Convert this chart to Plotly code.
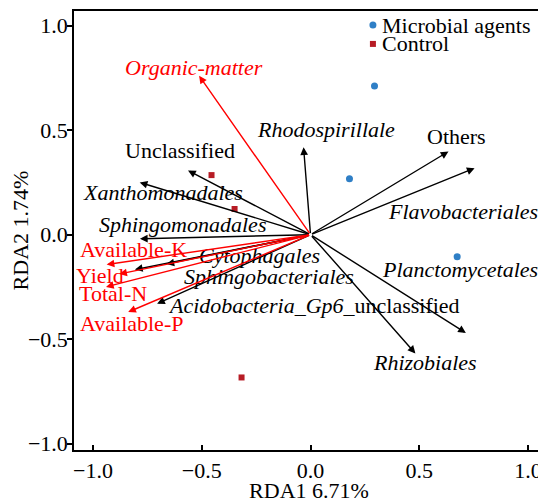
import plotly.graph_objects as go

# ---- data -------------------------------------------------------------
env_names = ["Organic-matter", "Available-K", "Yield", "Total-N", "Available-P"]
env_x = [-0.512, -0.937, -0.879, -0.940, -0.838]
env_y = [0.760, -0.143, -0.188, -0.250, -0.370]

species_names = ["Rhodospirillale", "Unclassified", "Xanthomonadales", "Sphingomonadales",
                 "Others", "Flavobacteriales", "Planctomycetales", "Rhizobiales",
                 "Cytophagales", "Sphingobacteriales", "Acidobacteria_Gp6_unclassified"]
species_x = [-0.032, -0.563, -0.785, -0.784, 0.634, 0.754, 0.714, 0.482, -0.807, -0.662, -0.705]
species_y = [0.418, 0.307, 0.250, -0.020, 0.398, 0.318, -0.470, -0.568, -0.167, -0.140, -0.330]

agents_x = [0.294, 0.179, 0.674]
agents_y = [0.711, 0.267, -0.105]
control_x = [-0.455, -0.349, -0.317]
control_y = [0.285, 0.123, -0.683]

group_names = ["Microbial agents", "Control"]

x_ticks = [-1.0, -0.5, 0.0, 0.5, 1.0]
y_ticks = [-1.0, -0.5, 0.0, 0.5, 1.0]

# ---- label placement (layout) ----------------------------------------
label_pos = {
    "Organic-matter": (-0.537, 0.800),
    "Available-K": (-0.812, -0.072),
    "Yield": (-0.968, -0.196),
    "Total-N": (-0.910, -0.282),
    "Available-P": (-0.823, -0.426),
    "Rhodospirillale": (0.069, 0.505),
    "Unclassified": (-0.600, 0.404),
    "Xanthomonadales": (-0.679, 0.200),
    "Sphingomonadales": (-0.589, 0.047),
    "Others": (0.670, 0.472),
    "Flavobacteriales": (0.700, 0.109),
    "Planctomycetales": (0.686, -0.168),
    "Rhizobiales": (0.525, -0.612),
    "Cytophagales": (-0.234, -0.101),
    "Sphingobacteriales": (-0.190, -0.201),
    "Acidobacteria_Gp6_unclassified": (0.018, -0.340),
}
italic = {"Organic-matter", "Rhodospirillale", "Xanthomonadales", "Sphingomonadales",
          "Flavobacteriales", "Planctomycetales", "Rhizobiales", "Cytophagales",
          "Sphingobacteriales"}


def fmt(name):
    if name == "Acidobacteria_Gp6_unclassified":
        return "<i>Acidobacteria_Gp6</i>_unclassified"
    return f"<i>{name}</i>" if name in italic else name


FONT = "Liberation Serif"
RED = "#ff0000"
BLACK = "#000000"
BLUE = "#2f7fc6"
DARKRED = "#b71c25"

fig = go.Figure()

fig.add_trace(go.Scatter(x=agents_x, y=agents_y, mode="markers", name=group_names[0],
                         showlegend=False,
                         marker=dict(symbol="circle", size=7, color=BLUE)))
fig.add_trace(go.Scatter(x=control_x, y=control_y, mode="markers", name=group_names[1],
                         showlegend=False,
                         marker=dict(symbol="square", size=6, color=DARKRED)))

annotations = []


def add_arrows(names, xs, ys, color):
    for n, x, y in zip(names, xs, ys):
        annotations.append(dict(x=x, y=y, ax=0, ay=0, xref="x", yref="y", axref="x", ayref="y",
                                text="", showarrow=True, arrowhead=2, arrowsize=1.1,
                                arrowwidth=1.4, arrowcolor=color))
        lx, ly = label_pos[n]
        annotations.append(dict(x=lx, y=ly, xref="x", yref="y", text=fmt(n), showarrow=False,
                                font=dict(family=FONT, size=22, color=color),
                                xanchor="center", yanchor="middle"))


add_arrows(species_names, species_x, species_y, BLACK)
add_arrows(env_names, env_x, env_y, RED)

# compact legend (top right), drawn as key shapes + text
leg_x, leg_text_x = 0.636, 0.652
leg_rows = [0.968, 0.925]
shapes = [
    dict(type="circle", xref="paper", yref="paper", xsizemode="pixel", ysizemode="pixel",
         xanchor=leg_x, yanchor=leg_rows[0], x0=-3.5, x1=3.5, y0=-3.5, y1=3.5,
         fillcolor=BLUE, line=dict(width=0)),
    dict(type="rect", xref="paper", yref="paper", xsizemode="pixel", ysizemode="pixel",
         xanchor=leg_x, yanchor=leg_rows[1], x0=-3, x1=3, y0=-3, y1=3,
         fillcolor=DARKRED, line=dict(width=0)),
]
for name, ry in zip(group_names, leg_rows):
    annotations.append(dict(x=leg_text_x, y=ry, xref="paper", yref="paper", text=name,
                            showarrow=False, xanchor="left", yanchor="middle",
                            font=dict(family=FONT, size=22, color="black")))

fig.add_hline(y=0, line=dict(color="black", width=1, dash="dot"))
fig.add_vline(x=0, line=dict(color="black", width=1, dash="dot"))

axis_common = dict(showgrid=False, zeroline=False, showline=True, linecolor="black",
                   linewidth=1.5, mirror=True, ticklen=5, tickwidth=1.5, tickcolor="black",
                   tickfont=dict(family=FONT, size=22, color="black"),
                   tickformat=".1f", automargin=False)

# the page body has an 8 px margin, so the figure is sized to fit inside it
fig.update_layout(
    width=538, height=495,
    margin=dict(l=66, r=2, t=3, b=53),
    plot_bgcolor="white", paper_bgcolor="white",
    font=dict(family=FONT, size=22, color="black"),
    annotations=annotations,
    shapes=shapes,
    showlegend=False,
    xaxis=dict(range=[-1.087, 1.073], tickvals=x_ticks, ticks="inside",
               title=dict(text="RDA1 6.71%", font=dict(family=FONT, size=22), standoff=2),
               **axis_common),
    yaxis=dict(range=[-1.03, 1.07], tickvals=y_ticks, ticks="outside", ticklabelstandoff=-5,
               title=dict(text="RDA2 1.74%", font=dict(family=FONT, size=22), standoff=2),
               **axis_common),
)

fig.write_html("out.html")
